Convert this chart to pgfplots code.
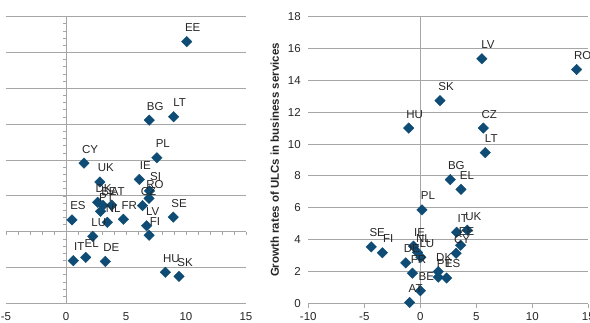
\documentclass[border=0pt]{standalone}
\usepackage{fontspec}
\setmainfont{Liberation Sans}
\usepackage{pgfplots}
\pgfplotsset{compat=1.18}
\definecolor{mk}{HTML}{0F4C75}
\definecolor{gridc}{HTML}{A6A6A6}
\definecolor{txt}{HTML}{262626}

\pgfplotstableread{
x y label
10.06 26.49 EE
6.94 15.56 BG
8.97 16.04 LT
7.57 10.31 PL
1.5 9.56 CY
2.82 6.94 UK
6.11 7.29 IE
6.96 5.69 SI
6.92 4.65 RO
6.38 3.64 CZ
2.64 4.10 DK
3.08 3.68 BE
3.81 3.71 AT
2.88 2.85 PT
3.44 1.32 NL
0.5 1.67 ES
4.78 1.74 FR
6.72 0.83 LV
6.92 -0.49 FI
8.93 2.04 SE
2.23 -0.65 LU
0.61 -4.03 IT
1.64 -3.57 EL
3.28 -4.13 DE
8.28 -5.65 HU
9.42 -6.21 SK
}\lefttab

\pgfplotstableread{
x y label
5.5 15.35 LV
13.96 14.68 RO
1.76 12.72 SK
-1.04 11.0 HU
5.63 11.0 CZ
5.8 9.46 LT
2.68 7.77 BG
3.63 7.16 EL
0.15 5.87 PL
3.25 4.47 IT
4.2 4.6 UK
3.6 3.65 EE
3.2 3.15 CY
-4.38 3.55 SE
-3.39 3.18 FI
-0.6 3.6 IE
-0.25 3.2 NL
0.05 2.9 LU
-1.3 2.55 DE
-0.7 1.9 FR
1.6 2.0 DK
1.6 1.65 PT
2.35 1.6 ES
0.0 0.8 BE
-0.95 0.06 AT
}\righttab

\begin{document}
\begin{tikzpicture}[font=\fontsize{11.5}{13}\selectfont]
\useasboundingbox (0,0) rectangle (590pt,322pt);
\pgfplotsset{
  mystyle/.style={scale only axis, anchor=south west, height=287pt,
    ymajorgrids, major grid style={gridc, line width=0.9pt},
    /pgf/number format/assume math mode=true,
    tick label style={text=txt, font=\fontsize{11.5}{13}\selectfont},
    axis line style={-}},
  pts/.style={only marks, mark=square*, mark size=3.7pt,
    mark options={rotate=45, fill=mk, draw=mk},
    nodes near coords, point meta=explicit symbolic,
    every node near coord/.style={anchor=center, xshift=6pt, yshift=14pt,
      text=txt, inner sep=0pt, font=\fontsize{11.5}{13}\selectfont}}
}
% left panel: axis lines through the origin
\begin{axis}[at={(6pt,18.5pt)}, anchor=south west, scale only axis,
  width=240pt, height=287pt, xmin=-5, xmax=15, ymin=-10, ymax=30,
  axis lines=middle, axis line style={gridc, line width=0.9pt, -},
  xtick={-5,...,15}, ytick={-10,...,30}, xticklabels={}, yticklabels={},
  tick style={gridc, line width=0.6pt}, major tick length=3pt, tick align=outside]
\end{axis}
\begin{axis}[mystyle, at={(6pt,18.5pt)}, width=240pt,
  xmin=-5, xmax=15, ymin=-10, ymax=30,
  xtick={-5,0,5,10,15}, ytick={-10,-5,...,30}, yticklabels={},
  axis line style={draw=none}, tick style={draw=none}, major tick length=0pt,
  xticklabel style={inner sep=0pt, anchor=north, yshift=-9pt}]
\addplot[pts] table[meta=label] {\lefttab};
\end{axis}
% right panel
\begin{axis}[mystyle, at={(308.3pt,18.5pt)}, width=280pt,
  xmin=-10, xmax=15, ymin=0, ymax=18,
  xtick={-10,-5,...,15}, ytick={0,2,...,18},
  axis x line*=bottom, axis y line*=left,
  x axis line style={gridc, line width=0.9pt},
  y axis line style={draw=none},
  xtick style={gridc, line width=0.6pt}, ytick style={draw=none},
  tick align=outside, major tick length=4pt,
  xticklabel style={inner sep=0pt, anchor=north, yshift=-5pt},
  ylabel={Growth rates of ULCs in business services},
  ylabel style={at={(axis description cs:-0.12,0.5)}, anchor=center,
    font=\bfseries\fontsize{11.5}{13}\selectfont, text=txt}]
\draw[gridc, line width=0.9pt] (axis cs:0,0) -- (axis cs:0,18);
\addplot[pts] table[meta=label] {\righttab};
\end{axis}
\end{tikzpicture}
\end{document}
